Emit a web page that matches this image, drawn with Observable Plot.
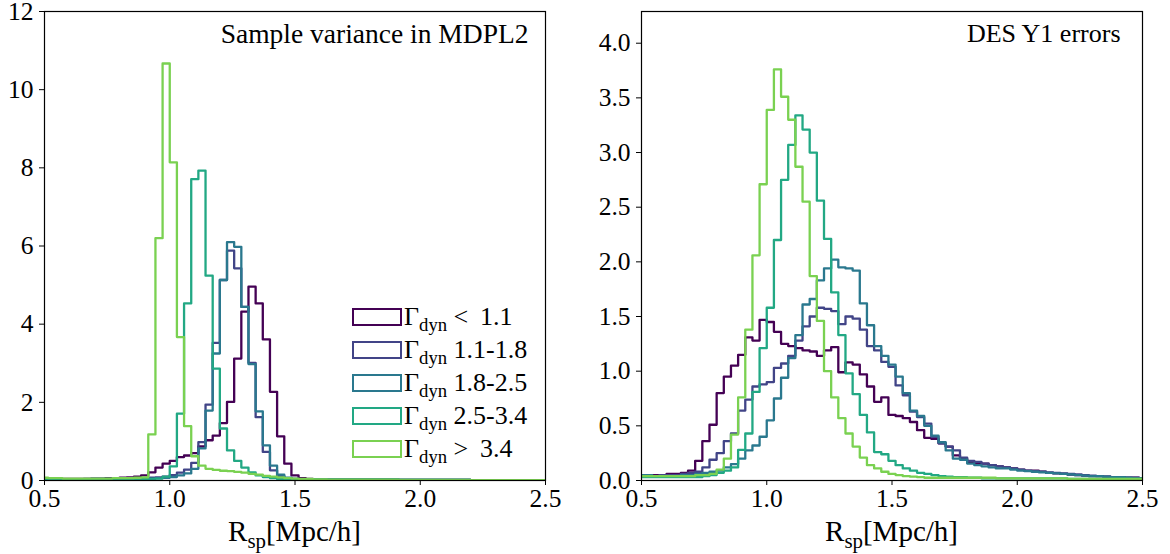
<!DOCTYPE html>
<html><head><meta charset="utf-8">
<script src="https://cdn.jsdelivr.net/npm/d3@7"></script>
<script src="https://cdn.jsdelivr.net/npm/@observablehq/plot@0.6"></script>
<style>
body{margin:0;background:#fff;}
#wrap{position:relative;width:1170px;height:554px;font-family:"Liberation Serif",serif;color:#000;overflow:hidden;}
.panel{position:absolute;top:0;}
.xlabel{position:absolute;top:517px;font-size:29px;line-height:1;white-space:nowrap;transform:translateX(-50%);}
.xlabel sub, #legend sub{font-size:0.72em;vertical-align:-0.32em;line-height:0;}
#legend{position:absolute;left:352px;top:300px;font-size:26px;line-height:1;}
.row{display:flex;align-items:center;height:33px;white-space:pre;}
.sw{width:50px;height:18px;box-sizing:border-box;border:2.2px solid;margin-right:2px;}
</style></head><body><div id="wrap"></div><script>
// ---- data ----
const rangeLabels = ["< 1.1", "1.1-1.8", "1.8-2.5", "2.5-3.4", "> 3.4"];
const colors = ["#440154", "#414487", "#2a788e", "#22a884", "#7ad151"];
const xTicks = [0.5, 1.0, 1.5, 2.0, 2.5];
const leftYTicks = [0, 2, 4, 6, 8, 10, 12];
const rightYTicks = [0, 0.5, 1.0, 1.5, 2.0, 2.5, 3.0, 3.5, 4.0];
const leftTitle = "Sample variance in MDPL2";
const rightTitle = "DES Y1 errors";
const firstBinIndex = 17;   // first bin starts at 17/35
const binsPerUnit = 35;     // bin width 1/35

// Left panel: sample variance in MDPL2 (bins j = 17 .. 87)
const leftLt11 = [0.03,0.03,0.03,0.04,0.04,0.04,0.04,0.05,0.05,0.06,
  0.06,0.07,0.08,0.10,0.13,0.21,0.33,0.43,0.50,0.60,
  0.64,0.70,0.87,1.03,1.15,1.47,2.01,3.12,4.32,4.96,
  4.53,3.61,2.27,1.13,0.43,0.13,0.06,0.04,0.03,0.03,
  0.02,0.02,0.02,0.02,0.02,0.02,0.02,0.02,0.02,0.02,
  0.015,0.015,0.015,0.015,0.015,0.015,0.015,0.015,0.015,0.015,
  0.01,0.01,0.01,0.01,0.01,0.01,0.01,0.01,0.01,0.01,0.01];
const left11_18 = [0.03,0.03,0.03,0.03,0.03,0.03,0.04,0.04,0.04,0.04,
  0.05,0.05,0.05,0.06,0.06,0.07,0.08,0.10,0.14,0.20,
  0.28,0.45,0.98,1.94,3.52,5.13,5.88,5.43,4.44,3.01,
  1.62,0.73,0.26,0.12,0.06,0.04,0.03,0.03,0.03,0.02,
  0.02,0.02,0.02,0.02,0.02,0.02,0.02,0.02,0.02,0.02,
  0.015,0.015,0.015,0.015,0.015,0.015,0.015,0.015,0.015,0.015,
  0.01,0.01,0.01,0.01,0.01,0.01,0.01,0.01,0.01,0.01,0.01];
const left18_25 = [0.03,0.03,0.03,0.03,0.03,0.03,0.03,0.04,0.04,0.04,
  0.04,0.04,0.05,0.05,0.05,0.05,0.06,0.07,0.09,0.13,
  0.18,0.30,0.82,1.79,3.25,5.13,6.10,5.98,4.44,2.98,
  1.77,0.90,0.38,0.15,0.07,0.04,0.03,0.03,0.03,0.02,
  0.02,0.02,0.02,0.02,0.02,0.02,0.02,0.02,0.02,0.02,
  0.015,0.015,0.015,0.015,0.015,0.015,0.015,0.015,0.015,0.015,
  0.01,0.01,0.01,0.01,0.01,0.01,0.01,0.01,0.01,0.01,0.01];
const left25_34 = [0.03,0.03,0.03,0.03,0.03,0.03,0.03,0.03,0.03,0.03,
  0.03,0.03,0.03,0.04,0.04,0.04,0.05,0.10,0.36,1.71,
  4.53,7.71,7.93,5.24,2.86,1.33,0.77,0.50,0.33,0.21,
  0.13,0.09,0.06,0.04,0.03,0.03,0.02,0.02,0.02,0.02,
  0.02,0.02,0.02,0.02,0.02,0.02,0.02,0.02,0.02,0.02,
  0.015,0.015,0.015,0.015,0.015,0.015,0.015,0.015,0.015,0.015,
  0.01,0.01,0.01,0.01,0.01,0.01,0.01,0.01,0.01,0.01,0.01];
const leftGt34 = [0.07,0.06,0.06,0.05,0.05,0.05,0.05,0.05,0.05,0.05,
  0.06,0.06,0.06,0.07,0.08,1.18,6.20,10.67,8.14,3.67,
  1.39,0.62,0.38,0.30,0.27,0.25,0.24,0.22,0.20,0.17,
  0.15,0.12,0.10,0.08,0.06,0.05,0.04,0.04,0.03,0.03,
  0.02,0.02,0.02,0.02,0.02,0.02,0.02,0.02,0.02,0.02,
  0.015,0.015,0.015,0.015,0.015,0.015,0.015,0.015,0.015,0.015,
  0.01,0.01,0.01,0.01,0.01,0.01,0.01,0.01,0.01,0.01,0.01];

// Right panel: DES Y1 errors (bins j = 17 .. 87)
const rightLt11 = [0.04,0.04,0.05,0.05,0.06,0.06,0.07,0.09,0.18,0.36,
  0.51,0.80,0.95,1.05,1.15,1.31,1.28,1.47,1.45,1.36,
  1.25,1.23,1.21,1.19,1.18,1.14,1.19,1.22,0.99,1.08,
  1.06,0.97,0.86,0.72,0.76,0.60,0.59,0.57,0.535,0.46,
  0.39,0.38,0.34,0.31,0.23,0.20,0.17,0.16,0.155,0.14,
  0.13,0.12,0.11,0.10,0.09,0.09,0.08,0.07,0.065,0.06,
  0.055,0.05,0.045,0.04,0.04,0.035,0.03,0.03,0.025,0.025,0.02];
const right11_18 = [0.04,0.04,0.04,0.05,0.05,0.05,0.06,0.07,0.08,0.12,
  0.19,0.25,0.36,0.43,0.64,0.74,0.86,0.88,0.90,1.03,
  1.07,1.14,1.28,1.41,1.50,1.58,1.57,1.55,1.43,1.50,
  1.48,1.38,1.23,1.19,1.085,1.04,0.87,0.78,0.63,0.58,
  0.52,0.40,0.34,0.31,0.275,0.21,0.18,0.17,0.155,0.14,
  0.13,0.12,0.11,0.10,0.09,0.085,0.08,0.075,0.07,0.065,
  0.06,0.055,0.05,0.045,0.04,0.035,0.03,0.03,0.025,0.025,0.02];
const right18_25 = [0.05,0.05,0.04,0.04,0.04,0.04,0.05,0.05,0.06,0.07,
  0.08,0.09,0.12,0.15,0.20,0.275,0.32,0.40,0.55,0.75,
  0.94,1.12,1.33,1.61,1.66,1.83,1.94,2.02,1.95,1.94,
  1.92,1.62,1.42,1.23,1.14,1.06,0.95,0.80,0.64,0.59,
  0.50,0.41,0.35,0.275,0.20,0.19,0.155,0.14,0.13,0.12,
  0.11,0.11,0.10,0.09,0.085,0.08,0.075,0.07,0.065,0.06,
  0.055,0.05,0.045,0.04,0.04,0.035,0.03,0.03,0.025,0.02,0.02];
const right25_34 = [0.03,0.03,0.03,0.03,0.03,0.03,0.03,0.03,0.03,0.04,
  0.05,0.07,0.09,0.12,0.28,0.43,0.81,1.21,1.58,2.20,
  2.75,3.07,3.34,3.21,3.00,2.56,2.21,1.72,1.33,0.98,
  0.79,0.60,0.44,0.26,0.24,0.18,0.14,0.11,0.09,0.07,
  0.06,0.05,0.04,0.035,0.03,0.03,0.025,0.025,0.02,0.02,
  0.02,0.02,0.02,0.02,0.02,0.02,0.02,0.02,0.02,0.02,
  0.015,0.015,0.015,0.015,0.015,0.015,0.015,0.015,0.015,0.015,0.015];
const rightGt34 = [0.04,0.04,0.04,0.04,0.04,0.04,0.04,0.04,0.05,0.05,
  0.06,0.10,0.20,0.42,0.76,1.38,2.06,2.71,3.39,3.76,
  3.51,3.30,2.87,2.55,1.87,1.46,1.00,0.76,0.57,0.43,
  0.31,0.21,0.14,0.11,0.08,0.06,0.05,0.04,0.035,0.03,
  0.025,0.025,0.025,0.025,0.025,0.025,0.025,0.025,0.025,0.025,
  0.02,0.02,0.02,0.02,0.02,0.02,0.02,0.02,0.02,0.02,
  0.015,0.015,0.015,0.015,0.015,0.015,0.015,0.015,0.015,0.015,0.015];

const leftSeries = [leftLt11, left11_18, left18_25, left25_34, leftGt34];
const rightSeries = [rightLt11, right11_18, right18_25, right25_34, rightGt34];

// ---- build ----
function stepPoints(values) {
  const pts = values.map((v, i) => ({x: (firstBinIndex + i) / binsPerUnit, y: v}));
  pts.push({x: (firstBinIndex + values.length) / binsPerUnit, y: values[values.length - 1]});
  return pts;
}

function panel({series, yDomain, yTicks, yFormat, title, titleDx, titleSize, marginLeft, marginRight}) {
  return Plot.plot({
    width: 585, height: 554,
    marginLeft, marginRight, marginTop: 11, marginBottom: 74,
    style: {fontFamily: "Liberation Serif", fontSize: "25px", color: "black", background: "white", overflow: "visible"},
    x: {domain: [0.5, 2.5]},
    y: {domain: yDomain},
    marks: [
      Plot.axisX({ticks: xTicks, tickFormat: d3.format(".1f"), tickSize: 5, tickPadding: 3, label: null, fontSize: 25.5}),
      Plot.axisY({ticks: yTicks, tickFormat: yFormat, tickSize: 5, tickPadding: 6, label: null, fontSize: 25.5}),
      ...series.map((vals, k) => Plot.line(stepPoints(vals), {
        x: "x", y: "y", curve: "step-after", stroke: colors[k], strokeWidth: 2.3, clip: true
      })),
      Plot.frame({stroke: "black", strokeWidth: 1.2}),
      Plot.text([title], {frameAnchor: "top-right", dx: titleDx, dy: 12, fontSize: titleSize})
    ]
  });
}

const wrap = document.getElementById("wrap");

const left = panel({series: leftSeries, yDomain: [0, 12], yTicks: leftYTicks, yFormat: d3.format("d"),
  title: leftTitle, titleDx: -17, titleSize: 27.5, marginLeft: 44, marginRight: 40});
left.classList.add("panel"); left.style.left = "0px";
wrap.appendChild(left);

const right = panel({series: rightSeries, yDomain: [0, 4.29], yTicks: rightYTicks, yFormat: d3.format(".1f"),
  title: rightTitle, titleDx: -22, titleSize: 26, marginLeft: 56, marginRight: 28});
right.classList.add("panel"); right.style.left = "585px";
wrap.appendChild(right);

// x-axis titles
for (const cx of [294.5, 891.5]) {
  const d = document.createElement("div");
  d.className = "xlabel";
  d.style.left = cx + "px";
  d.innerHTML = "R<sub>sp</sub>[Mpc/h]";
  wrap.appendChild(d);
}

// legend (left panel)
const leg = document.createElement("div");
leg.id = "legend";
rangeLabels.forEach((lab, k) => {
  const row = document.createElement("div");
  row.className = "row";
  const sw = document.createElement("span");
  sw.className = "sw";
  sw.style.borderColor = colors[k];
  const t = document.createElement("span");
  const txt = lab.replace("< ", "<\u2009 ").replace("> ", ">\u2009 ")
                 .replace("<", "&lt;").replace(">", "&gt;");
  t.innerHTML = "Γ<sub>dyn</sub> " + txt;
  row.appendChild(sw); row.appendChild(t);
  leg.appendChild(row);
});
wrap.appendChild(leg);
</script></body></html>
